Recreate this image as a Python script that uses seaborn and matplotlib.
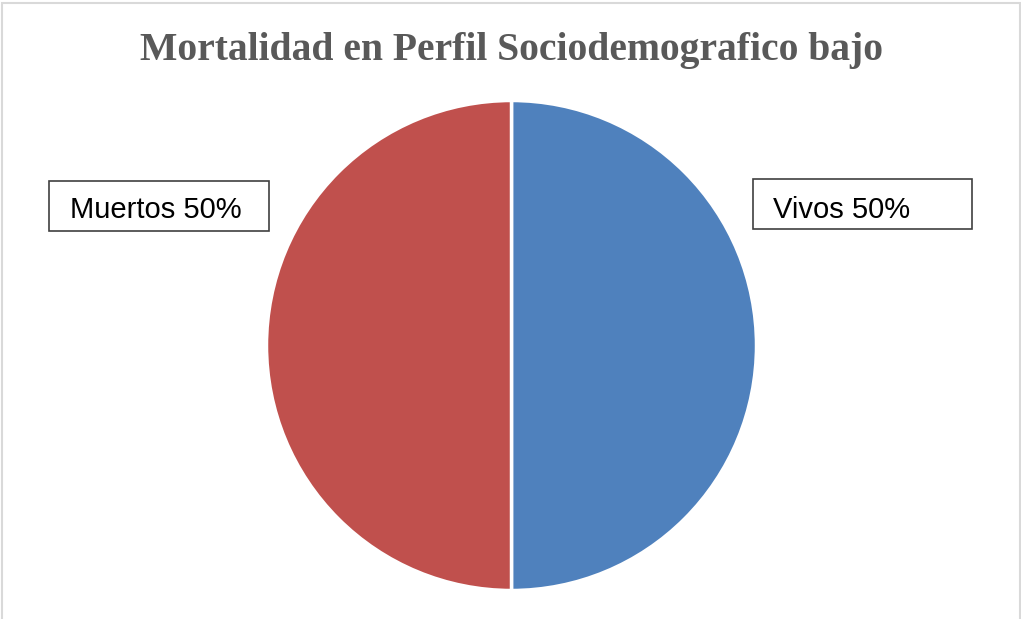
import matplotlib
matplotlib.use("Agg")
import matplotlib.pyplot as plt
from matplotlib.patches import Rectangle
import seaborn as sns

sns.set_theme(style="white")

W, H = 1021, 619
categories = ["Vivos", "Muertos"]
shares = [50, 50]
colors = ["#4F81BD", "#C0504D"]
title = "Mortalidad en Perfil Sociodemografico bajo"

fig = plt.figure(figsize=(W / 100, H / 100), dpi=100)
fig.patch.set_facecolor("white")

# outer chart border (bottom edge is cut off in the original)
fig.add_artist(Rectangle((1.5 / W, -5 / H), (W - 2.5) / W, (H + 1.5) / H,
                         transform=fig.transFigure, fill=False,
                         edgecolor="#D9D9D9", linewidth=1.5))

# pie axes: centre ~(511, 345), radius ~245 px
cx, cy, r = 511.5, 345.5, 245
ax = fig.add_axes([(cx - r) / W, (H - cy - r) / H, 2 * r / W, 2 * r / H])
wedges, _ = ax.pie(shares, colors=colors, startangle=90, counterclock=False,
                   radius=1, wedgeprops=dict(edgecolor="white", linewidth=2.5))
ax.set_xlim(-1, 1)
ax.set_ylim(-1, 1)
ax.set_aspect("equal")
ax.axis("off")

fig.text(cx / W, 1 - 60 / H, title, ha="center", va="baseline",
         fontsize=28.5, fontweight="bold", color="#595959",
         family=["Liberation Serif", "DejaVu Serif"])

# data labels in boxes
boxes = {
    "Muertos": (49, 181, 269, 231, 70),
    "Vivos": (753, 179, 972, 229, 773),
}
for cat, val in zip(categories, shares):
    x0, y0, x1, y1, tx = boxes[cat]
    fig.add_artist(Rectangle((x0 / W, 1 - y1 / H), (x1 - x0) / W, (y1 - y0) / H,
                             transform=fig.transFigure, facecolor="white",
                             edgecolor="#404040", linewidth=1.2))
    fig.text(tx / W, 1 - 218 / H, f"{cat} {val}%", ha="left", va="baseline",
             fontsize=21, color="black", family=["Liberation Sans", "DejaVu Sans"])

fig.savefig("out.png", dpi=100)
